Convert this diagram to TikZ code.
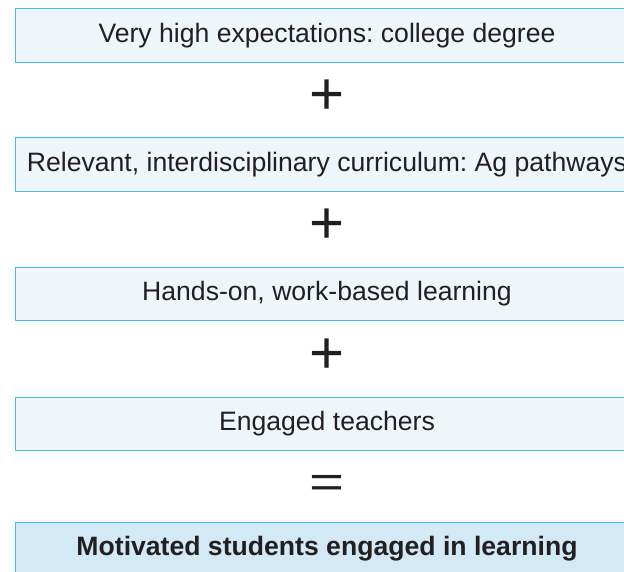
\documentclass[tikz,border=0pt]{standalone}
\usepackage{fontspec}
\setmainfont{Liberation Sans}
\usetikzlibrary{positioning}
\definecolor{boxfill}{HTML}{EEF6FC}
\definecolor{boxline}{HTML}{3FBFE8}
\definecolor{goalfill}{HTML}{D3EAF6}
\definecolor{inktext}{HTML}{231F20}
\tikzset{
  factor/.style={draw=boxline, fill=boxfill, line width=1pt,
    minimum width=624pt, minimum height=53.5pt, inner sep=0pt,
    text=inktext, font=\fontsize{26.6}{30}\selectfont},
  goal/.style={factor, fill=goalfill, font=\fontsize{26.6}{30}\selectfont\bfseries},
  sign/.style={text=inktext, inner sep=0pt, font=\fontsize{60}{64}\selectfont}
}
\frenchspacing
\begin{document}
\begin{tikzpicture}[line cap=round,line join=round,x=1pt,y=1pt]
\useasboundingbox (0,0) rectangle (624,-571);
\node[factor] (expect) at (327,-35.5) {Very high expectations: college degree};
\node[sign] (plusa) at (327,-97.5) {+};
\node[factor] (curric) at (327,-164.5) {Relevant, interdisciplinary curriculum: Ag pathways};
\node[sign] (plusb) at (327,-226.5) {+};
\node[factor] (hands) at (327,-294) {Hands-on, work-based learning};
\node[sign] (plusc) at (327,-356) {+};
\node[factor] (teach) at (327,-424) {Engaged teachers};
\node[sign, yscale=0.75] (equal) at (327,-486.5) {=};
\node[goal] (motiv) at (327,-549) {Motivated students engaged in learning};
\end{tikzpicture}
\end{document}
